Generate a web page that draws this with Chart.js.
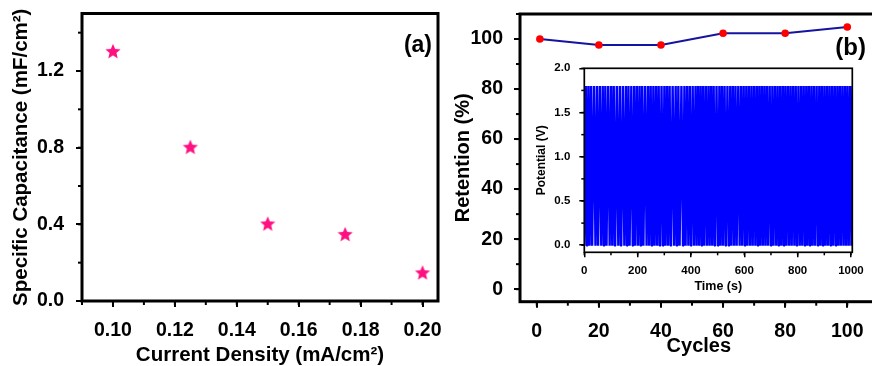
<!DOCTYPE html>
<html>
<head>
<meta charset="utf-8">
<script src="https://cdn.jsdelivr.net/npm/chart.js@4.4.1/dist/chart.umd.min.js"></script>
<style>
  html, body { margin: 0; padding: 0; background: #fff; overflow: hidden; width: 872px; height: 366px; }
  canvas { position: absolute; }
  #capChart { left: 0; top: 0; }
  #retChart { left: 440px; top: 0; }
  #gcdChart { left: 525px; top: 60px; }
</style>
</head>
<body>
<canvas id="capChart" width="460" height="366"></canvas>
<canvas id="retChart" width="445" height="366"></canvas>
<canvas id="gcdChart" width="345" height="238"></canvas>
<script>
// ---- (a) specific capacitance vs current density ----
const currentDensity = [0.10, 0.125, 0.15, 0.175, 0.20];          // mA/cm²
const specificCapacitance = [1.30, 0.80, 0.40, 0.345, 0.145];     // mF/cm²
const densityTicks = [0.10, 0.12, 0.14, 0.16, 0.18, 0.20];
const capacitanceTicks = [0.0, 0.4, 0.8, 1.2];

// ---- (b) capacitance retention over cycling ----
const cycleNumber = [1, 20, 40, 60, 80, 100];
const retention = [100, 97.6, 97.6, 102.3, 102.3, 104.8];         // %
const cycleTicks = [0, 20, 40, 60, 80, 100];
const retentionTicks = [0, 20, 40, 60, 80, 100];

// ---- (b, inset) galvanostatic charge/discharge trace, one entry per cycle ----
const timeTicks = [0, 200, 400, 600, 800, 1000];
const potentialTicks = [0.0, 0.5, 1.0, 1.5, 2.0];
// peak potential reached on charge (V)
const gcdPeakV = [
  1.80,1.80,1.80,1.80,1.80,1.80,1.80,1.80,1.80,1.80,
  1.80,1.80,1.80,1.80,1.80,1.80,1.80,1.80,1.80,1.80,
  1.80,1.80,1.80,1.80,1.80,1.80,1.80,1.80,1.80,1.80,
  1.80,1.80,1.80,1.80,1.80,1.80,1.80,1.80,1.80,1.80,
  1.80,1.80,1.80,1.80,1.80,1.80,1.80,1.80,1.80,1.80,
  1.80,1.80,1.80,1.80,1.80,1.80,1.80,1.80,1.80,1.80,
  1.80,1.80,1.80,1.80,1.80,1.80,1.80,1.80,1.80,1.80,
  1.80,1.80,1.80,1.80,1.80,1.80,1.80,1.80,1.80,1.80,
  1.80,1.80,1.80,1.80,1.80,1.80,1.80,1.80,1.80,1.80,
  1.80,1.80,1.80,1.80,1.80,1.80,1.80,1.80,1.80,1.80
];
// duration of the charge half (and of the discharge half) of each cycle (s)
const gcdHalfSec = [
  4.35,4.35,4.35,5.72,4.35,5.41,4.35,4.35,5.38,4.35,
  4.35,5.89,4.35,5.89,4.35,4.35,5.38,4.35,4.66,4.35,
  4.35,5.52,4.35,4.35,4.63,4.35,4.35,5.27,4.35,4.35,
  4.35,5.89,4.35,4.63,5.80,4.35,4.63,4.35,5.27,4.35,
  4.35,4.35,4.35,4.74,4.35,4.35,4.35,5.52,4.35,4.35,
  4.58,5.30,4.35,4.58,4.35,5.17,4.35,4.58,4.35,4.55,
  4.35,4.55,4.35,4.35,4.35,4.35,4.35,4.83,4.35,4.66,
  4.35,4.60,4.35,4.35,4.55,4.35,4.58,4.35,4.94,4.35,
  4.55,4.35,4.35,4.53,4.35,4.83,4.35,4.35,4.55,4.35,
  4.53,4.35,4.55,4.35,4.35,4.53,4.35,4.35,4.60,4.35
];
// rest at the lower cut-off before each charge (s)
const gcdRestSec = [
  1.1,1.1,1.1,1.1,1.1,1.1,1.1,1.1,1.1,1.1,
  1.1,1.1,1.1,1.1,1.1,1.1,1.1,1.1,1.1,1.1,
  1.1,1.1,1.1,1.1,1.1,1.1,1.1,1.1,1.1,1.1,
  1.1,1.1,1.1,1.1,1.1,1.1,1.1,1.1,1.1,1.1,
  0.9,0.9,0.9,0.9,0.9,0.9,0.9,0.9,0.9,0.9,
  0.9,0.9,0.9,0.9,0.9,0.9,0.9,0.9,0.9,0.9,
  0.9,0.9,0.9,0.9,0.9,0.9,0.9,0.9,0.9,0.9,
  0.8,0.8,0.8,0.8,0.8,0.8,0.8,0.8,0.8,0.8,
  0.8,0.8,0.8,0.8,0.8,0.8,0.8,0.8,0.8,0.8,
  0.8,0.8,0.8,0.8,0.8,0.8,0.8,0.8,0.8,0.8
];
const gcdFloorV = -0.005;   // lower potential limit (V)

// ---- turn the per-cycle table into a time/potential trace ----
const gcdTrace = [];
let clock = 0;
gcdTrace.push({ x: clock, y: gcdFloorV });
for (let i = 0; i < gcdPeakV.length; i++) {
  clock += gcdRestSec[i]; gcdTrace.push({ x: clock, y: gcdFloorV });
  clock += gcdHalfSec[i]; gcdTrace.push({ x: clock, y: gcdPeakV[i] });
  clock += gcdHalfSec[i]; gcdTrace.push({ x: clock, y: gcdFloorV });
}

// ---- shared look ----
const FONT = 'Liberation Sans, Arial, Helvetica, sans-serif';
Chart.defaults.font.family = FONT;
Chart.defaults.color = '#000';
Chart.defaults.animation = false;
Chart.defaults.events = [];
Chart.defaults.plugins.legend.display = false;
Chart.defaults.plugins.tooltip.enabled = false;

// the box spanned by the axis ranges
function plotRect(chart) {
  const { x, y } = chart.scales;
  return {
    left: x.getPixelForValue(x.min), right: x.getPixelForValue(x.max),
    top: y.getPixelForValue(y.max), bottom: y.getPixelForValue(y.min)
  };
}

// boxed frame, minor ticks, optional panel tag and plot background
const originFrame = {
  id: 'originFrame',
  beforeDatasetsDraw(chart, args, o) {
    if (!o.fill) return;
    const { ctx } = chart;
    const r = plotRect(chart);
    ctx.save();
    ctx.fillStyle = o.fill;
    ctx.fillRect(r.left, r.top, r.right - r.left, r.bottom - r.top);
    ctx.restore();
  },
  afterDraw(chart, args, o) {
    const { ctx, scales } = chart;
    const r = plotRect(chart);
    ctx.save();
    ctx.strokeStyle = '#000';
    ctx.lineWidth = o.tickWidth;
    for (const id of Object.keys(o.minor || {})) {
      const s = scales[id], step = o.minor[id];
      for (let i = Math.ceil(s.min / step - 1e-9); i * step <= s.max + 1e-9; i++) {
        const p = s.getPixelForValue(i * step);
        ctx.beginPath();
        if (s.isHorizontal()) { ctx.moveTo(p, r.bottom); ctx.lineTo(p, r.bottom + o.minorLen); }
        else { ctx.moveTo(r.left, p); ctx.lineTo(r.left - o.minorLen, p); }
        ctx.stroke();
      }
    }
    ctx.lineWidth = o.width;
    ctx.strokeRect(r.left, r.top, r.right - r.left, r.bottom - r.top);
    if (o.tag) {
      ctx.font = o.tag.font;
      ctx.fillStyle = '#000';
      ctx.textAlign = 'right';
      ctx.textBaseline = 'middle';
      ctx.fillText(o.tag.text, o.tag.x, o.tag.y);
    }
    ctx.restore();
  }
};

// fixed-size axis box; label overhang must not push the plot area around
function fixedX(h) { return s => { s.height = h; s.paddingLeft = 0; s.paddingRight = 0; }; }
function fixedY(w) { return s => { s.width = w; s.paddingTop = 0; s.paddingBottom = 0; }; }

function axis(opts) {
  return {
    type: 'linear',
    min: opts.min, max: opts.max,
    afterFit: opts.fit,
    afterBuildTicks: s => { s.ticks = opts.ticks.map(v => ({ value: v })); },
    grid: { display: true, drawOnChartArea: false, drawTicks: true,
            tickLength: opts.tickLen, lineWidth: opts.tickWidth, color: '#000' },
    border: { display: false },
    ticks: { padding: opts.pad, color: '#000',
             font: { family: FONT, size: opts.tickSize, weight: 'bold' },
             maxRotation: 0, autoSkip: false, callback: opts.fmt },
    title: { display: true, text: opts.title, color: '#000',
             font: { family: FONT, size: opts.titleSize, weight: 'bold', lineHeight: 1 },
             padding: opts.titlePad }
  };
}

// star marker for panel (a)
function starMarker(r, color) {
  const c = document.createElement('canvas');
  const s = Math.ceil(2 * r + 2);
  c.width = s; c.height = s;
  const g = c.getContext('2d');
  g.beginPath();
  for (let i = 0; i < 10; i++) {
    const rr = i % 2 ? r * 0.45 : r;
    const ang = -Math.PI / 2 + i * Math.PI / 5;
    g.lineTo(s / 2 + rr * Math.cos(ang), s / 2 + rr * Math.sin(ang));
  }
  g.closePath();
  g.fillStyle = color;
  g.fill();
  return c;
}

// ---- (a) ----
new Chart(document.getElementById('capChart'), {
  type: 'scatter',
  data: {
    datasets: [{
      data: currentDensity.map((x, i) => ({ x, y: specificCapacitance[i] })),
      pointStyle: starMarker(8, '#ff1080'),
      pointRadius: 8,
      showLine: false,
      clip: false
    }]
  },
  plugins: [originFrame],
  options: {
    responsive: false, devicePixelRatio: 1,
    layout: { padding: { top: 13.5, right: 22, left: 0, bottom: 0 } },
    scales: {
      x: axis({ min: 0.09, max: 0.205, ticks: densityTicks, tickLen: 6, tickWidth: 2, pad: 12, tickSize: 19.5,
                fmt: v => v.toFixed(2), title: 'Current Density (mA/cm²)', titleSize: 20.5,
                titlePad: { top: 0, bottom: 0 }, fit: fixedX(65) }),
      y: axis({ min: 0, max: 1.5, ticks: capacitanceTicks, tickLen: 6, tickWidth: 2, pad: 12, tickSize: 19.5,
                fmt: v => v.toFixed(1), title: 'Specific Capacitance (mF/cm²)', titleSize: 20.5,
                titlePad: { top: 11.5, bottom: 0 }, fit: fixedY(82) })
    },
    plugins: {
      originFrame: { width: 3, tickWidth: 2, minorLen: 4, minor: { x: 0.01, y: 0.2 },
                     tag: { text: '(a)', x: 432, y: 46, font: 'bold 23px ' + FONT } }
    }
  }
});

// ---- (b) ----
new Chart(document.getElementById('retChart'), {
  type: 'scatter',
  data: {
    datasets: [{
      data: cycleNumber.map((x, i) => ({ x, y: retention[i] })),
      showLine: true,
      borderColor: '#1414a0',
      borderWidth: 2,
      pointRadius: 3.8,
      pointBorderWidth: 0,
      pointBackgroundColor: '#ff0000',
      pointBorderColor: '#ff0000',
      clip: false
    }, {
      data: cycleNumber.map((x, i) => ({ x, y: retention[i] })),
      showLine: false,
      pointRadius: 1.3,
      pointBorderWidth: 0,
      pointBackgroundColor: '#1414a0',
      clip: false
    }]
  },
  plugins: [originFrame],
  options: {
    responsive: false, devicePixelRatio: 1,
    layout: { padding: { top: 14, right: 7.3, left: 0, bottom: 0 } },
    scales: {
      x: axis({ min: -5.4, max: 109.8, ticks: cycleTicks, tickLen: 6, tickWidth: 2, pad: 12, tickSize: 19.5,
                fmt: v => String(v), title: 'Cycles', titleSize: 20,
                titlePad: { top: 0, bottom: 10 }, fit: fixedX(64.3) }),
      y: axis({ min: -5, max: 110, ticks: retentionTicks, tickLen: 6, tickWidth: 2, pad: 11, tickSize: 19.5,
                fmt: v => String(v), title: 'Retention (%)', titleSize: 20,
                titlePad: { top: 13.5, bottom: 0 }, fit: fixedY(80) })
    },
    plugins: {
      originFrame: { width: 3, tickWidth: 2, minorLen: 4, minor: { x: 10, y: 10 },
                     tag: { text: '(b)', x: 426, y: 48, font: 'bold 24px ' + FONT } }
    }
  }
});

// ---- (b) inset ----
new Chart(document.getElementById('gcdChart'), {
  type: 'scatter',
  data: {
    datasets: [{
      data: gcdTrace,
      showLine: true,
      borderColor: '#0000ff',
      borderWidth: 2.4,
      borderJoinStyle: 'bevel',
      tension: 0,
      pointRadius: 0
    }]
  },
  plugins: [originFrame],
  options: {
    responsive: false, devicePixelRatio: 1,
    layout: { padding: { top: 8.3, right: 17.7, left: 0, bottom: 0 } },
    scales: {
      x: axis({ min: 0, max: 1005, ticks: timeTicks, tickLen: 5, tickWidth: 1.5, pad: 7, tickSize: 11.5,
                fmt: v => String(v), title: 'Time (s)', titleSize: 12.5,
                titlePad: { top: 0, bottom: 5 }, fit: fixedX(45.7) }),
      y: axis({ min: -0.08, max: 2.0, ticks: potentialTicks, tickLen: 5, tickWidth: 1.5, pad: 9, tickSize: 11.5,
                fmt: v => v.toFixed(1), title: 'Potential (V)', titleSize: 12,
                titlePad: { top: 10.5, bottom: 0 }, fit: fixedY(59.3) })
    },
    plugins: {
      originFrame: { width: 1.7, tickWidth: 1.5, minorLen: 3, minor: { x: 100, y: 0.25 }, fill: '#ffffff' }
    }
  }
});
</script>
</body>
</html>
